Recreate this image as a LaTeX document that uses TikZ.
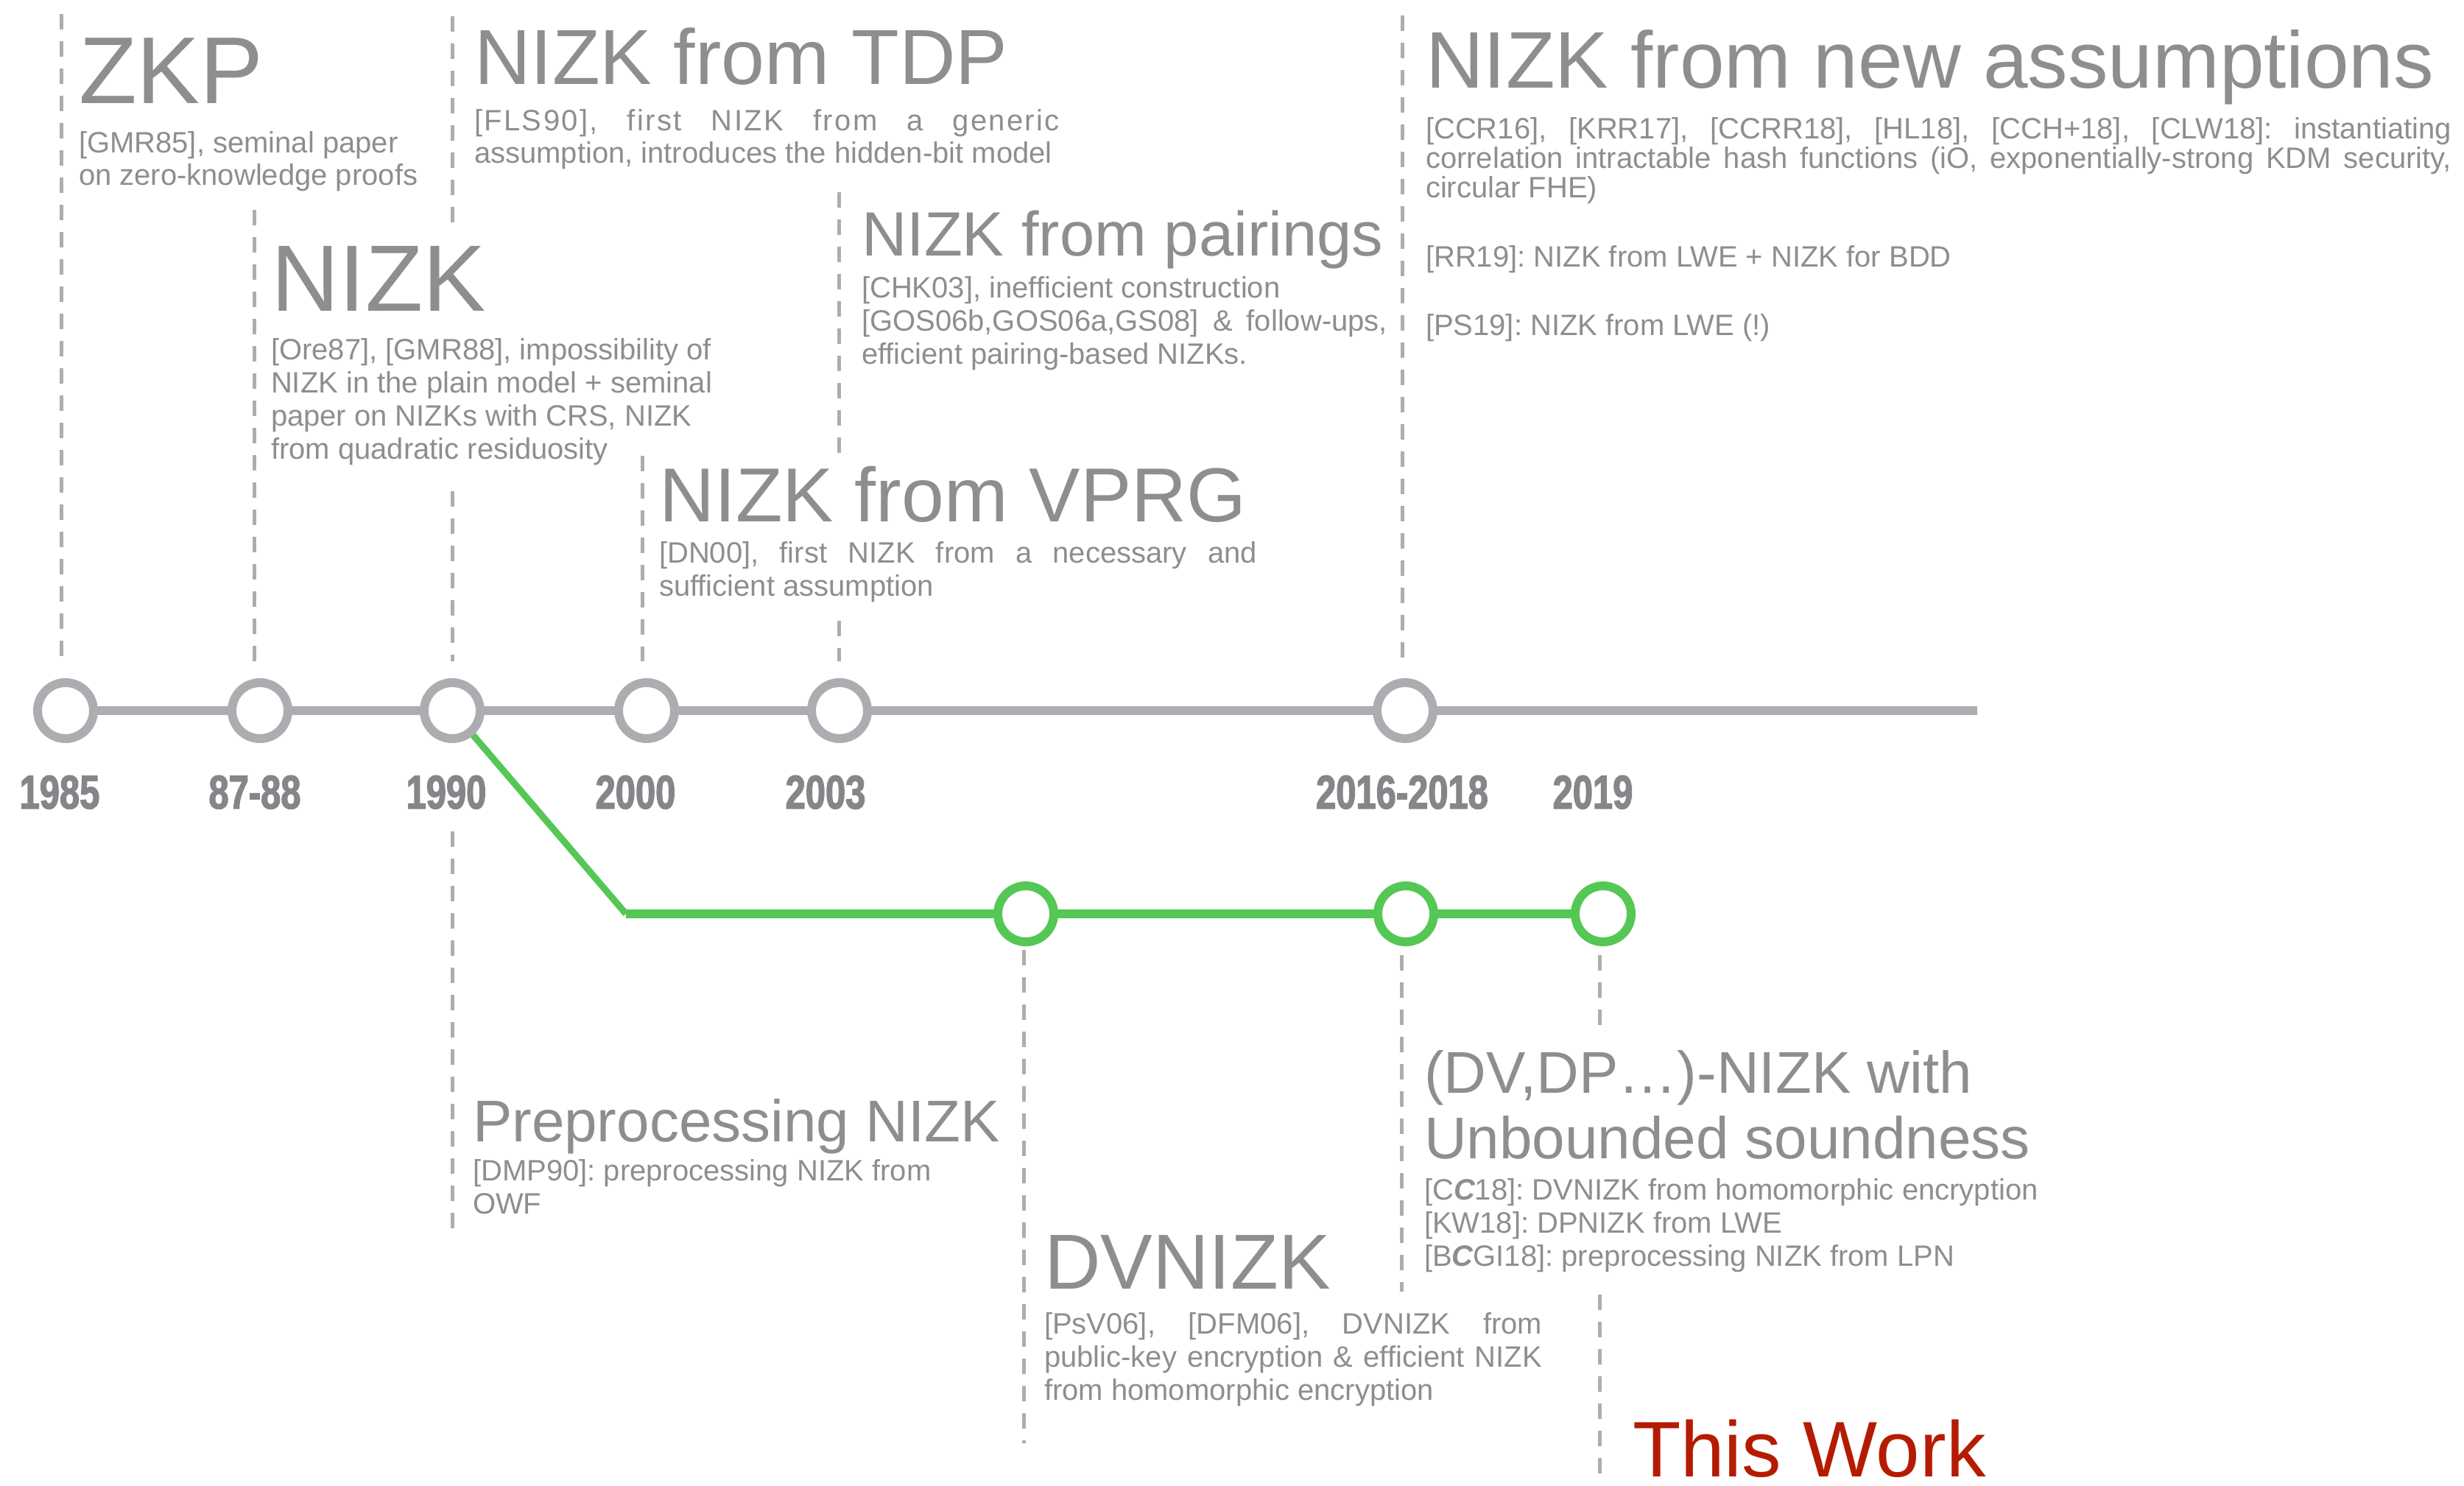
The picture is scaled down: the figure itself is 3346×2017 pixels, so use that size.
\documentclass[tikz,border=0pt]{standalone}
\usepackage{fontspec}
\setmainfont{Liberation Sans}[Ligatures=NoCommon]
\newfontfamily\yearfont{Liberation Sans}[FakeStretch=0.76, FakeBold=2]
\usetikzlibrary{backgrounds}
\definecolor{txt}{HTML}{8E8E8E}
\definecolor{lgray}{HTML}{ADACB1}
\definecolor{ygray}{HTML}{86858A}
\definecolor{grn}{HTML}{55C755}
\definecolor{twred}{HTML}{B51B03}
\newdimen\pxu \pxu=0.3pt
\hbadness=10000 \hfuzz=20pt
\frenchspacing
\newcommand\fs[1]{\fontsize{#1pt}{#1pt}\selectfont}
\newcommand\tblock[2]{\vtop{\baselineskip=#1\pxu\lineskiplimit=-1000pt\lineskip=0pt\relax #2}}
\tikzset{
  x=0.3pt, y=-0.3pt,
  ttl/.style={anchor=base west, inner sep=0pt, outer sep=0pt, text=txt},
  body/.style={anchor=base west, inner sep=0pt, outer sep=0pt, text=txt, font=\fs{12}},
  yr/.style={anchor=base, inner sep=0pt, text=ygray, font=\yearfont\bfseries\fs{19.3}},
  tcirc/.style={circle, draw=lgray, fill=white, line width=3.6pt, minimum size=22.8pt, inner sep=0pt},
  gcirc/.style={circle, draw=grn, fill=white, line width=3.6pt, minimum size=22.8pt, inner sep=0pt},
  mainline/.style={draw=lgray, line width=3.6pt},
  gline/.style={draw=grn, line width=3.45pt},
  gdiag/.style={draw=grn, line width=2.7pt},
  dsh/.style={draw=lgray, line width=1.5pt, dash pattern=on 6.3pt off 4.8pt},
}
\begin{document}
\begin{tikzpicture}
\useasboundingbox (0,0) rectangle (3346,2017);

% timeline circles
\node[tcirc] (c1985) at (89,965) {};
\node[tcirc] (c8788) at (353,965) {};
\node[tcirc] (c1990) at (614,965) {};
\node[tcirc] (c2000) at (878,965) {};
\node[tcirc] (c2003) at (1140,965) {};
\node[tcirc] (c2016) at (1908,965) {};
\coordinate (tlend) at (2685,965);

% green branch
\coordinate (gcorner) at (850,1241);
\node[gcirc] (g2006) at (1393,1241) {};
\node[gcirc] (g2018) at (1909,1241) {};
\node[gcirc] (g2019) at (2177,1241) {};

\begin{pgfonlayer}{background}
  \fill[white] (0,0) rectangle (3346,2017);
  \draw[mainline] (c1985.center) -- (tlend);
  \draw[gdiag] (c1990.center) -- (gcorner);
  \draw[gline] (gcorner) -- (g2006.center) -- (g2018.center) -- (g2019.center);
  % dashed guide lines above the timeline
  \draw[dsh] (83,19) -- (83,898);
  \draw[dsh] (345,285) -- (345,898);
  \draw[dsh] (614,22) -- (614,308);
  \draw[dsh] (614,667) -- (614,898);
  \draw[dsh] (872,619) -- (872,898);
  \draw[dsh] (1139,261) -- (1139,619);
  \draw[dsh] (1139,843) -- (1139,898);
  \draw[dsh] (1904,21) -- (1904,898);
  % dashed guide lines below
  \draw[dsh] (614,1129) -- (614,1671);
  \draw[dsh] (1390,1290) -- (1390,1960);
  \draw[dsh] (1903,1297) -- (1903,1754);
  \draw[dsh] (2172,1297) -- (2172,1394);
  \draw[dsh] (2172,1758) -- (2172,2017);
\end{pgfonlayer}

% years
\node[yr] (y1985) at (81,1098) {1985};
\node[yr] (y8788) at (346,1098) {87-88};
\node[yr] (y1990) at (606,1098) {1990};
\node[yr] (y2000) at (863,1098) {2000};
\node[yr] (y2003) at (1121,1098) {2003};
\node[yr] (y2016) at (1904,1098) {2016-2018};
\node[yr] (y2019) at (2163,1098) {2019};

% ZKP
\node[ttl, font=\fs{38.7}] (zkpT) at (107,140) {ZKP};
\node[body] (zkpB) at (107,207) {\tblock{44}{\hbox{[GMR85], seminal paper}\hbox{on zero-knowledge proofs}}};

% NIZK
\node[ttl, font=\fs{38.4}] (nizkT) at (368,422) {NIZK};
\node[body] (nizkB) at (368,488) {\tblock{45}{\hbox{[Ore87], [GMR88], impossibility of}\hbox{NIZK in the plain model + seminal}\hbox{paper on NIZKs with CRS, NIZK}\hbox{from quadratic residuosity}}};

% NIZK from TDP
\node[ttl, font=\fs{31.8}] (tdpT) at (644,114) {NIZK from TDP};
\node[body] (tdpB) at (644,177) {\tblock{44}{\hbox to 795\pxu{\addfontfeature{LetterSpace=6}[FLS90], first NIZK from a generic}\hbox{assumption, introduces the hidden-bit model}}};

% NIZK from pairings
\node[ttl, font=\fs{25.5}] (pairT) at (1170,347) {NIZK from pairings};
\node[body] (pairB) at (1170,404) {\tblock{45}{\hbox{[CHK03], inefficient construction}\hbox to 714\pxu{[GOS06b,GOS06a,GS08] \& follow-ups,}\hbox{efficient pairing-based NIZKs.}}};

% NIZK from VPRG
\node[ttl, font=\fs{31.2}] (vprgT) at (895,708) {NIZK from VPRG};
\node[body] (vprgB) at (895,764) {\tblock{45}{\hbox to 812\pxu{[DN00], first NIZK from a necessary and}\hbox{sufficient assumption}}};

% NIZK from new assumptions
\node[ttl, font=\fs{32.7}] (newT) at (1936,119) {NIZK from new assumptions};
\node[body] (newB) at (1936,188) {\tblock{40}{\hbox to 1393\pxu{[CCR16], [KRR17], [CCRR18], [HL18], [CCH+18], [CLW18]: instantiating}\hbox to 1393\pxu{correlation intractable hash functions (iO, exponentially-strong KDM security,}\hbox{circular FHE)}}};
\node[body] (rr19) at (1936,362) {[RR19]: NIZK from LWE + NIZK for BDD};
\node[body] (ps19) at (1936,455) {[PS19]: NIZK from LWE (!)};

% Preprocessing NIZK
\node[ttl, font=\fs{24}] (preT) at (642,1550) {Preprocessing NIZK};
\node[body] (preB) at (642,1603) {\tblock{45}{\hbox{[DMP90]: preprocessing NIZK from}\hbox{OWF}}};

% DVNIZK
\node[ttl, font=\fs{31.8}] (dvT) at (1418,1750) {DVNIZK};
\node[body] (dvB) at (1418,1811) {\tblock{45}{\hbox to 676\pxu{[PsV06], [DFM06], DVNIZK from}\hbox to 676\pxu{public-key encryption \& efficient NIZK}\hbox{from homomorphic encryption}}};

% (DV,DP...)-NIZK
\node[ttl, font=\fs{24}] (dvdpT) at (1934,1484) {\tblock{89}{\hbox{(DV,DP…)-NIZK with}\hbox{Unbounded soundness}}};
\node[body] (dvdpB) at (1934,1629) {\tblock{45}{\hbox{[C{\bfseries\itshape C}18]: DVNIZK from homomorphic encryption}\hbox{[KW18]: DPNIZK from LWE}\hbox{[B{\bfseries\itshape C}GI18]: preprocessing NIZK from LPN}}};

% This work
\node[ttl, text=twred, font=\fs{32.1}] (tw) at (2217,2005) {This Work};
\end{tikzpicture}
\end{document}
